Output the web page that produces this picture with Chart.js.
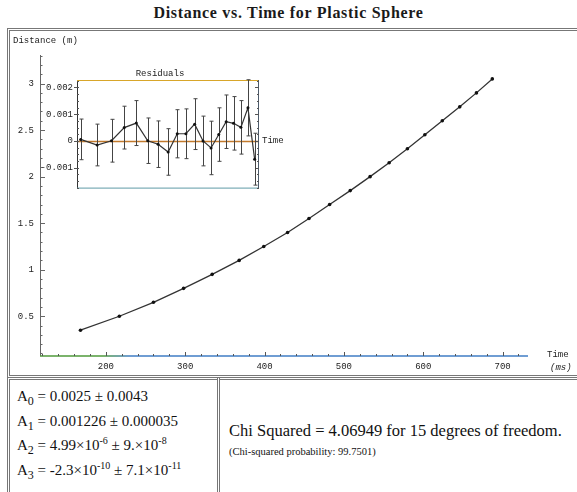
<!DOCTYPE html>
<html>
<head>
<meta charset="utf-8">
<script src="https://cdn.jsdelivr.net/npm/chart.js@4.4.0/dist/chart.umd.min.js"></script>
<style>
  body { margin: 0; width: 577px; height: 492px; overflow: hidden; background: #fff; position: relative; font-family: "Liberation Serif", "Times New Roman", serif; color: #111; }
  #title { position: absolute; left: 0; top: 4px; width: 577px; text-align: center; font-weight: bold; font-size: 16px; letter-spacing: 0.7px; color: #1a1a1a; }
  .box { position: absolute; border: 3px double #777; box-sizing: border-box; }
  #frame { left: 7px; top: 28px; width: 590px; height: 350px; }
  #params { left: 7px; top: 377px; width: 213px; height: 130px; }
  #chi { left: 217px; top: 377px; width: 380px; height: 130px; }
  .p { position: absolute; left: 7px; font-size: 15px; line-height: 20px; white-space: nowrap; }
  .p sub { font-size: 12px; vertical-align: -4px; line-height: 0; }
  .p sup { font-size: 10px; vertical-align: 6px; line-height: 0; }
  #chi1 { position: absolute; left: 9px; top: 42px; font-size: 16.5px; line-height: 18px; white-space: nowrap; }
  #chi2 { position: absolute; left: 9px; top: 65px; font-size: 10.5px; line-height: 13px; white-space: nowrap; }
  #main { position: absolute; left: 0; top: 0; width: 577px; height: 492px; }
  #inset { position: absolute; left: 0; top: 64px; width: 290px; height: 134px; }
</style>
</head>
<body>
<div id="title">Distance vs. Time for Plastic Sphere</div>
<div class="box" id="frame"></div>
<div class="box" id="params">
  <div class="p" style="top:6px">A<sub>0</sub> = 0.0025 ± 0.0043</div>
  <div class="p" style="top:31px">A<sub>1</sub> = 0.001226 ± 0.000035</div>
  <div class="p" style="top:55px">A<sub>2</sub> = 4.99×10<sup>-6</sup> ± 9.×10<sup>-8</sup></div>
  <div class="p" style="top:80px">A<sub>3</sub> = -2.3×10<sup>-10</sup> ± 7.1×10<sup>-11</sup></div>
</div>
<div class="box" id="chi">
  <div id="chi1">Chi Squared = 4.06949 for 15 degrees of freedom.</div>
  <div id="chi2">(Chi-squared probability: 99.7501)</div>
</div>
<canvas id="main" width="577" height="492"></canvas>
<canvas id="inset" width="290" height="134"></canvas>
<script>
// measured data (time in ms, distance in m)
const times = [168, 217, 260, 298, 334, 368, 399, 429, 456, 482, 508, 533, 557, 580, 602, 624, 646, 667, 687];
const distances = [0.35, 0.50, 0.65, 0.80, 0.95, 1.10, 1.25, 1.40, 1.55, 1.70, 1.85, 2.00, 2.15, 2.30, 2.45, 2.60, 2.75, 2.90, 3.05];
const residuals = [0.00006, -0.00015, 0.00001, 0.0005, 0.00067, 0.00001, -0.00012, -0.00041, 0.00027, 0.00027,
  0.00063, 0.0, -0.00026, 0.00024, 0.00072, 0.00066, 0.00051, 0.00124, -0.00068];
const resErrors = [0.00076, 0.00078, 0.0008, 0.0008, 0.00084, 0.00085, 0.00087, 0.00087, 0.0009, 0.00093,
  0.00095, 0.00093, 0.001, 0.001, 0.001, 0.001, 0.001, 0.00105, 0.00097];

const xTicks = [200, 300, 400, 500, 600, 700];
const yTicks = [0.5, 1, 1.5, 2, 2.5, 3];
const resTicks = [-0.001, 0, 0.001, 0.002];

const monoFont = { family: "Liberation Mono, DejaVu Sans Mono, monospace", size: 9 };
Chart.defaults.font.family = monoFont.family;
Chart.defaults.color = "#222";

function pairs(xs, ys) {
  return xs.map(function (x, i) {
    return { x: x, y: ys[i] };
  });
}

function isNear(v, step) {
  return Math.abs(v / step - Math.round(v / step)) < 1e-6;
}

const mainDeco = {
  id: "mainDeco",
  beforeDatasetsDraw: function (chart) {
    const ctx = chart.ctx;
    const a = chart.chartArea;
    const xs = chart.scales.x;
    const ys = chart.scales.y;
    ctx.save();
    ctx.lineWidth = 1;
    // y axis + ticks
    ctx.strokeStyle = "#666";
    ctx.beginPath();
    ctx.moveTo(a.left + 0.5, a.top);
    ctx.lineTo(a.left + 0.5, a.bottom);
    for (let v = 0.1; v < ys.max; v += 0.1) {
      const py = Math.round(ys.getPixelForValue(v)) + 0.5;
      const len = isNear(v, 0.5) ? 5 : 2.5;
      ctx.moveTo(a.left, py);
      ctx.lineTo(a.left + len, py);
    }
    ctx.stroke();
    // x axis + ticks
    const grad = ctx.createLinearGradient(a.left, 0, a.left + 90, 0);
    grad.addColorStop(0, "#4f9a3a");
    grad.addColorStop(0.7, "#4f9a3a");
    grad.addColorStop(1, "#3f7cc4");
    ctx.strokeStyle = grad;
    ctx.lineWidth = 1.5;
    ctx.beginPath();
    ctx.moveTo(a.left, a.bottom);
    ctx.lineTo(a.right, a.bottom);
    ctx.stroke();
    ctx.strokeStyle = "#555";
    ctx.lineWidth = 1;
    ctx.beginPath();
    for (let v = 120; v < xs.max; v += 20) {
      const px = Math.round(xs.getPixelForValue(v)) + 0.5;
      const len = isNear(v, 100) ? 4 : 2;
      ctx.moveTo(px, a.bottom);
      ctx.lineTo(px, a.bottom - len);
    }
    ctx.stroke();
    ctx.restore();
  },
  afterDraw: function (chart) {
    const ctx = chart.ctx;
    const a = chart.chartArea;
    ctx.save();
    ctx.fillStyle = "#222";
    ctx.font = "9px " + monoFont.family;
    ctx.textBaseline = "middle";
    ctx.fillText("Distance (m)", 13, 41);
    ctx.fillText("Time", a.right + 19, a.bottom - 1);
    ctx.font = "italic 9px " + monoFont.family;
    ctx.fillText("(ms)", a.right + 22, a.bottom + 12);
    ctx.restore();
  }
};

new Chart(document.querySelector("#main"), {
  type: "line",
  data: {
    datasets: [
      {
        data: pairs(times, distances),
        borderColor: "#333",
        borderWidth: 1.3,
        pointRadius: 1.8,
        pointBackgroundColor: "#111",
        pointBorderWidth: 0,
        tension: 0,
      },
    ],
  },
  options: {
    responsive: false,
    animation: false,
    events: [],
    layout: { padding: { left: 10, top: 55, right: 49, bottom: 116 } },
    plugins: { legend: { display: false }, tooltip: { enabled: false } },
    scales: {
      x: {
        type: "linear",
        min: 117,
        max: 732,
        afterFit: function (s) { s.height = 20; },
        afterBuildTicks: function (s) { s.ticks = xTicks.map(function (v) { return { value: v }; }); },
        grid: { display: false, drawTicks: false },
        border: { display: false },
        ticks: { font: monoFont, padding: 5, maxRotation: 0, autoSkip: false },
      },
      y: {
        type: "linear",
        min: 0.073,
        max: 3.307,
        afterFit: function (s) { s.width = 30; },
        afterBuildTicks: function (s) { s.ticks = yTicks.map(function (v) { return { value: v }; }); },
        grid: { display: false, drawTicks: false },
        border: { display: false },
        ticks: {
          font: monoFont,
          padding: 6,
          autoSkip: false,
          callback: function (v) { return String(v); },
        },
      },
    },
  },
  plugins: [mainDeco],
});

const insetDeco = {
  id: "insetDeco",
  beforeDatasetsDraw: function (chart) {
    const ctx = chart.ctx;
    const a = chart.chartArea;
    const xs = chart.scales.x;
    const ys = chart.scales.y;
    ctx.save();
    // zero line
    const y0 = Math.round(ys.getPixelForValue(0)) + 0.5;
    ctx.strokeStyle = "#c27a2c";
    ctx.lineWidth = 1.3;
    ctx.beginPath();
    ctx.moveTo(a.left, y0);
    ctx.lineTo(a.right, y0);
    ctx.stroke();
    ctx.lineWidth = 1;
    // frame
    const edges = [
      ["#333", a.left + 0.5, a.top, a.left + 0.5, a.bottom],
      ["#d8a62a", a.left, a.top + 0.5, a.right, a.top + 0.5],
      ["#5e9aa6", a.left, a.bottom - 0.5, a.right, a.bottom - 0.5],
      ["#4d5b6b", a.right - 0.5, a.top, a.right - 0.5, a.bottom],
    ];
    edges.forEach(function (e) {
      ctx.strokeStyle = e[0];
      ctx.beginPath();
      ctx.moveTo(e[1], e[2]);
      ctx.lineTo(e[3], e[4]);
      ctx.stroke();
    });
    // ticks
    ctx.strokeStyle = "#555";
    ctx.beginPath();
    for (let v = -0.00175; v < ys.max; v += 0.00025) {
      const py = Math.round(ys.getPixelForValue(v)) + 0.5;
      const major = isNear(v, 0.001);
      ctx.moveTo(a.left - (major ? 3 : 0), py);
      ctx.lineTo(a.left + 2, py);
      ctx.moveTo(a.right, py);
      ctx.lineTo(a.right - (major ? 4 : 2), py);
    }
    ctx.stroke();
    // error bars
    ctx.strokeStyle = "#444";
    ctx.beginPath();
    times.forEach(function (t, i) {
      const px = Math.round(xs.getPixelForValue(t)) + 0.5;
      const top = ys.getPixelForValue(residuals[i] + resErrors[i]);
      const bot = ys.getPixelForValue(residuals[i] - resErrors[i]);
      ctx.moveTo(px, top);
      ctx.lineTo(px, bot);
      ctx.moveTo(px - 2, top);
      ctx.lineTo(px + 2, top);
      ctx.moveTo(px - 2, bot);
      ctx.lineTo(px + 2, bot);
    });
    ctx.stroke();
    ctx.restore();
  },
  afterDraw: function (chart) {
    const ctx = chart.ctx;
    const a = chart.chartArea;
    const ys = chart.scales.y;
    ctx.save();
    ctx.fillStyle = "#222";
    ctx.font = "9px " + monoFont.family;
    ctx.textBaseline = "middle";
    ctx.textAlign = "center";
    ctx.fillText("Residuals", (a.left + a.right) / 2 - 8, a.top - 6);
    ctx.textAlign = "left";
    ctx.fillText("Time", a.right + 3, ys.getPixelForValue(0));
    ctx.restore();
  }
};

new Chart(document.querySelector("#inset"), {
  type: "line",
  data: {
    datasets: [
      {
        data: pairs(times, residuals),
        borderColor: "#333",
        borderWidth: 1.2,
        pointRadius: 1.5,
        pointBackgroundColor: "#111",
        pointBorderWidth: 0,
        tension: 0,
      },
    ],
  },
  options: {
    responsive: false,
    animation: false,
    events: [],
    layout: { padding: { left: 40, top: 16, right: 31, bottom: 0 } },
    plugins: { legend: { display: false }, tooltip: { enabled: false } },
    scales: {
      x: { type: "linear", min: 157, max: 700, display: false },
      y: {
        type: "linear",
        min: -0.00178,
        max: 0.00228,
        afterFit: function (s) { s.width = 37; },
        afterBuildTicks: function (s) { s.ticks = resTicks.map(function (v) { return { value: v }; }); },
        grid: { display: false, drawTicks: false },
        border: { display: false },
        ticks: {
          font: monoFont,
          padding: 4,
          autoSkip: false,
          callback: function (v) { return v === 0 ? "0" : v.toFixed(3); },
        },
      },
    },
  },
  plugins: [insetDeco],
});
</script>
</body>
</html>
